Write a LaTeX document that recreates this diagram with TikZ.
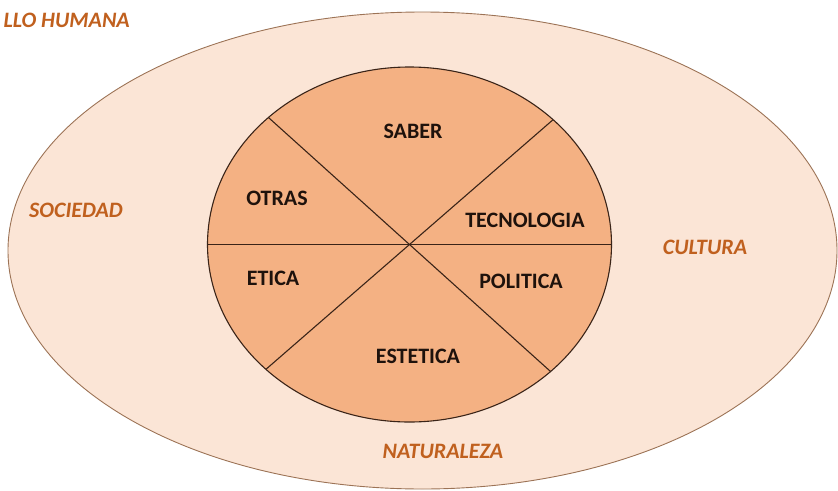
\documentclass[tikz,border=0pt]{standalone}
\usepackage{fontspec}
\setmainfont{Carlito}
\usetikzlibrary{shapes.geometric}
\definecolor{outerfill}{HTML}{FBE5D6}
\definecolor{innerfill}{HTML}{F4B183}
\definecolor{outerline}{HTML}{9C7356}
\definecolor{innerline}{HTML}{3A2418}
\definecolor{labelorange}{HTML}{C0601E}
\definecolor{labeldark}{HTML}{1E120C}
\tikzset{
  outerlbl/.style={font=\fontsize{22}{24}\selectfont\bfseries\itshape, text=labelorange, inner sep=0pt},
  innerlbl/.style={font=\fontsize{22}{24}\selectfont\bfseries, text=labeldark, inner sep=0pt},
  divider/.style={draw=innerline, line width=1.1pt}
}
\begin{document}
\begin{tikzpicture}[x=1pt,y=-1pt]
\useasboundingbox (0,0) rectangle (838,490);
\node[ellipse, draw=outerline, line width=0.9pt, fill=outerfill, outer sep=0pt, inner sep=0pt,
      minimum width=829pt, minimum height=477pt] (outer) at (422.5,250.5) {};
\node[ellipse, draw=innerline, line width=1.1pt, fill=innerfill, outer sep=0pt, inner sep=0pt,
      minimum width=404pt, minimum height=355pt] (inner) at (409.5,244.5) {};
\draw[divider] (inner.west) -- (inner.east);
\draw[divider] (inner.41.2) -- (inner.221.2);
\draw[divider] (inner.138.8) -- (inner.318.8);
\node[innerlbl] (saber) at (413,131) {SABER};
\node[innerlbl] (otras) at (277,198) {OTRAS};
\node[innerlbl] (tecno) at (525,220) {TECNOLOGIA};
\node[innerlbl] (etica) at (273,278) {ETICA};
\node[innerlbl] (politica) at (521,281) {POLITICA};
\node[innerlbl] (estetica) at (418,356) {ESTETICA};
\node[outerlbl, anchor=east] (humana) at (130,20) {LLO HUMANA};
\node[outerlbl] (sociedad) at (76,210) {SOCIEDAD};
\node[outerlbl] (cultura) at (705,247) {CULTURA};
\node[outerlbl] (naturaleza) at (443,451) {NATURALEZA};
\end{tikzpicture}
\end{document}
